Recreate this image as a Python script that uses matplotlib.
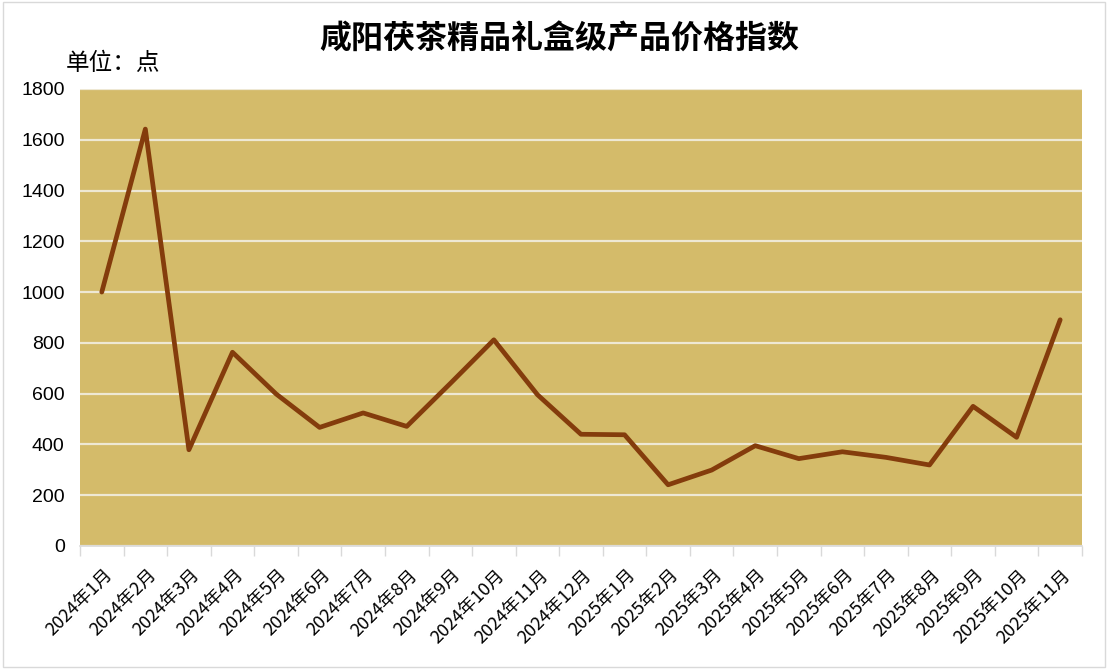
import matplotlib
matplotlib.use('Agg')
import matplotlib.pyplot as plt
from matplotlib.patches import Rectangle

plt.rcParams['font.family'] = ['Noto Sans CJK SC', 'DejaVu Sans']

months = ['2024年1月', '2024年2月', '2024年3月', '2024年4月', '2024年5月',
          '2024年6月', '2024年7月', '2024年8月', '2024年9月', '2024年10月',
          '2024年11月', '2024年12月', '2025年1月', '2025年2月', '2025年3月',
          '2025年4月', '2025年5月', '2025年6月', '2025年7月', '2025年8月',
          '2025年9月', '2025年10月', '2025年11月']
index_values = [1000, 1642, 379, 763, 599, 467, 524, 471, 640, 812, 596, 440,
                438, 241, 299, 395, 344, 371, 349, 319, 550, 428, 891]
y_ticks = [0, 200, 400, 600, 800, 1000, 1200, 1400, 1600, 1800]

fig = plt.figure(figsize=(11.08, 6.69), dpi=100)
ax = fig.add_axes([0.0722, 0.1839, 0.9043, 0.6831])
ax.set_facecolor('#D4BB6A')

x = list(range(len(months)))
ax.plot(x, index_values, color='#843C0C', lw=3.4, solid_joinstyle='round',
        solid_capstyle='round', zorder=3)

ax.set_ylim(0, 1800)
ax.set_yticks(y_ticks)
ax.set_yticklabels([str(v) for v in y_ticks], fontsize=14, family='Liberation Sans')
ax.yaxis.grid(True, color='#EEE8D4', lw=1.6)
ax.set_axisbelow(True)
ax.tick_params(axis='y', length=0, pad=11)

ax.set_xlim(-0.5, len(months) - 0.5)
ax.set_xticks(x)
ax.set_xticklabels(months, rotation=45, ha='right', va='center',
                   rotation_mode='anchor', fontsize=13)
ax.tick_params(axis='x', which='major', length=0, pad=19)
ax.set_xticks([i - 0.5 for i in range(len(months) + 1)], minor=True)
ax.tick_params(axis='x', which='minor', length=7, color='#D9D9D9', width=1)
# nudge rotated labels right so their ends sit like the original
from matplotlib.transforms import ScaledTranslation
for lbl in ax.get_xticklabels():
    lbl.set_transform(lbl.get_transform() + ScaledTranslation(0.08, 0, fig.dpi_scale_trans))

for side in ['top', 'right', 'left']:
    ax.spines[side].set_visible(False)
ax.spines['bottom'].set_color('#D9D9D9')
ax.spines['bottom'].set_linewidth(1.2)

fig.text(0.505, 0.94, '咸阳茯茶精品礼盒级产品价格指数', ha='center', va='center',
         fontsize=23, fontweight='bold')
fig.text(0.059, 0.905, '单位：点', ha='left', va='center', fontsize=17)

fig.patches.append(Rectangle((0.003, 0.003), 0.994, 0.994, transform=fig.transFigure,
                             fill=False, edgecolor='#D9D9D9', lw=1))

fig.savefig('out.png', dpi=100)
